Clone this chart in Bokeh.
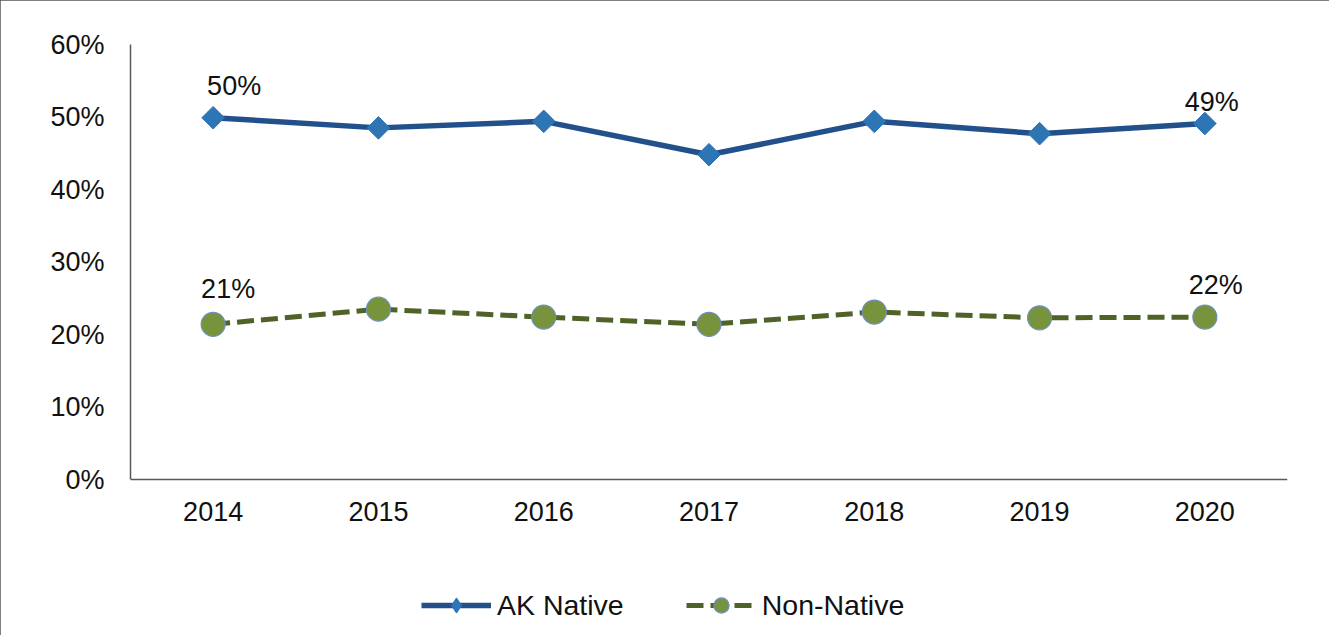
from bokeh.plotting import figure
from bokeh.models import Range1d, FixedTicker, Legend, LegendItem, ColumnDataSource
from bokeh.core.properties import value
from bokeh.embed import file_html
from bokeh.resources import INLINE
import math

years = ["2014", "2015", "2016", "2017", "2018", "2019", "2020"]
ak_native = [49.9, 48.5, 49.4, 44.8, 49.4, 47.7, 49.1]
non_native = [21.4, 23.5, 22.4, 21.4, 23.1, 22.3, 22.4]
y_ticks = [0, 10, 20, 30, 40, 50, 60]
y_tick_labels = ["0%", "10%", "20%", "30%", "40%", "50%", "60%"]
series_names = ["AK Native", "Non-Native"]
ak_labels = {"2014": "50%", "2020": "49%"}
nn_labels = {"2014": "21%", "2020": "22%"}

FONT = "Liberation Sans"
TXT = "#111111"

# frame spans from the 60% line down to near the bottom edge so that the
# legend can sit inside it; the x axis is pinned at 0%
W, H = 1329, 635
TOP, BOTTOM = 44, 6
PX_PER_UNIT = 435 / 60.0
y_min = -(H - BOTTOM - 479) / PX_PER_UNIT

p = figure(x_range=years, y_range=Range1d(y_min, 60), width=W, height=H,
           output_backend="svg", toolbar_location=None,
           min_border_left=130, min_border_right=42,
           min_border_top=TOP, min_border_bottom=BOTTOM)
p.x_range.range_padding = 0
p.outline_line_color = None
p.xgrid.visible = False
p.ygrid.visible = False
p.background_fill_color = "white"
p.border_fill_color = "white"
p.styles = {"outline": "2px solid #555555", "outline-offset": "-2px"}
# auxiliary range used only by the legend's diamond key (keeps its points off-frame)
p.extra_y_ranges = {"legend_key": Range1d(1000, 1001)}

for ax in (p.xaxis[0], p.yaxis[0]):
    ax.axis_line_color = "#595959"
    ax.axis_line_width = 1.5
    ax.major_tick_line_color = None
    ax.minor_tick_line_color = None
    ax.major_tick_in = 0
    ax.major_tick_out = 0
    ax.major_label_text_font = FONT
    ax.major_label_text_font_size = "27px"
    ax.major_label_text_color = TXT

p.yaxis.ticker = FixedTicker(ticks=y_ticks)
p.yaxis.bounds = (0, 60)
p.yaxis.major_label_overrides = {t: l for t, l in zip(y_ticks, y_tick_labels)}
p.yaxis.major_label_standoff = 26
p.xaxis.fixed_location = 0
p.xaxis.major_label_standoff = 22

src = ColumnDataSource(dict(x=years, ak=ak_native, nn=non_native))

ak_line = p.line("x", "ak", source=src, line_color="#22508A", line_width=5.5)
ak_pts = p.scatter("x", "ak", source=src, marker="square", size=16, angle=math.pi / 4,
                   fill_color="#2E75B6", line_color="#2E75B6", line_width=1)
nn_line = p.line("x", "nn", source=src, line_color="#4F6228", line_width=5,
                 line_dash="17 7")
nn_pts = p.scatter("x", "nn", source=src, marker="circle", size=24,
                   fill_color="#77933C", line_color="#6F8FC0", line_width=1.2)
# legend-only diamond key (mapped on the auxiliary range, so nothing shows in the frame)
ak_key = p.scatter("x", "ak", source=src, y_range_name="legend_key",
                   marker="diamond", size=16,
                   fill_color="#2E75B6", line_color="#2E75B6")

# data labels
lab_offsets = {("ak", "2014"): (21, -32), ("ak", "2020"): (7, -22),
               ("nn", "2014"): (15, -35), ("nn", "2020"): (11, -32)}
for key, labels, vals in (("ak", ak_labels, ak_native), ("nn", nn_labels, non_native)):
    for yr, txt in labels.items():
        i = years.index(yr)
        dx, dy = lab_offsets[(key, yr)]
        p.text(x=[yr], y=[vals[i]], text=[txt], x_offset=dx, y_offset=dy,
               text_align="center", text_baseline="alphabetic",
               text_font=value(FONT), text_font_size="27px", text_color=TXT)

legend = Legend(items=[LegendItem(label=series_names[0], renderers=[ak_line, ak_key]),
                       LegendItem(label=series_names[1], renderers=[nn_line, nn_pts])],
                orientation="horizontal", location=(291, 5),
                glyph_width=70, glyph_height=38, label_standoff=6, spacing=62,
                padding=0, margin=0, border_line_color=None,
                background_fill_alpha=0,
                label_text_font=FONT, label_text_font_size="28.5px",
                label_text_color=TXT)
p.add_layout(legend, "center")

open("out.html", "w").write(file_html(p, INLINE))
